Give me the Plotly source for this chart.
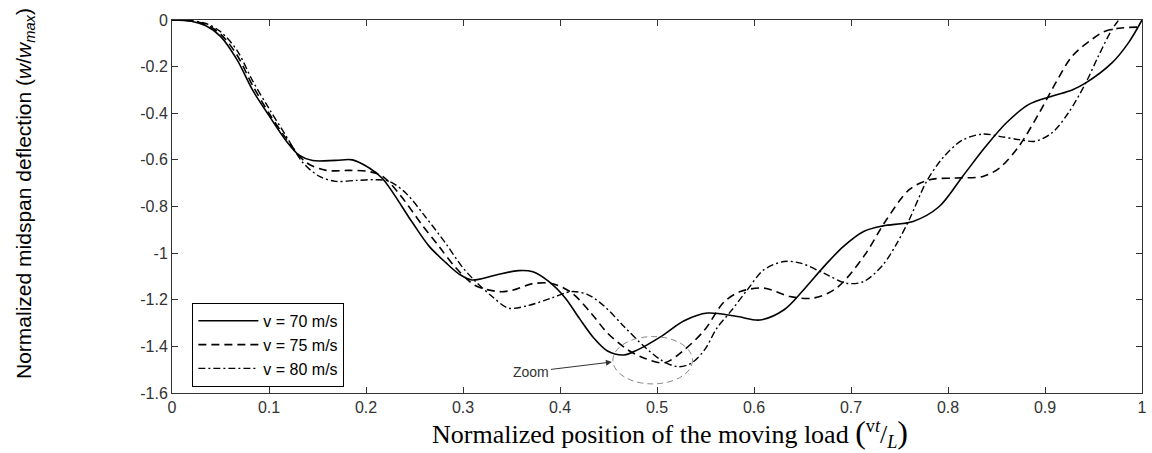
import plotly.graph_objects as go

# ---- data ----
x70 = [0, 0.02, 0.035, 0.05, 0.067, 0.083, 0.10, 0.118, 0.131, 0.145, 0.169, 0.186, 0.203, 0.217,
       0.248, 0.265, 0.282, 0.296, 0.309, 0.333, 0.357, 0.372, 0.388, 0.405, 0.42, 0.435, 0.449, 0.466,
       0.48, 0.504, 0.528, 0.552, 0.583, 0.606, 0.631, 0.651, 0.672, 0.692, 0.713, 0.733, 0.764,
       0.791, 0.815, 0.839, 0.86, 0.883, 0.907, 0.928, 0.942, 0.969, 0.986, 1.0]
y70 = [0, -0.005, -0.025, -0.07, -0.17, -0.30, -0.41, -0.52, -0.58, -0.603, -0.602, -0.600, -0.634, -0.68,
       -0.87, -0.97, -1.04, -1.09, -1.115, -1.095, -1.075, -1.08, -1.12, -1.19, -1.28, -1.365, -1.42, -1.437,
       -1.415, -1.358, -1.29, -1.257, -1.272, -1.287, -1.243, -1.158, -1.058, -0.972, -0.907, -0.883, -0.864,
       -0.80, -0.671, -0.542, -0.442, -0.363, -0.327, -0.30, -0.27, -0.184, -0.098, 0.0]

x75 = [0, 0.02, 0.035, 0.05, 0.067, 0.083, 0.10, 0.118, 0.138, 0.159, 0.183, 0.203, 0.217, 0.235,
       0.258, 0.275, 0.292, 0.313, 0.337, 0.35, 0.371, 0.391, 0.412, 0.432, 0.449, 0.47, 0.487,
       0.508, 0.528, 0.549, 0.569, 0.586, 0.61, 0.637, 0.661, 0.685, 0.713, 0.736, 0.76, 0.781,
       0.808, 0.836, 0.853, 0.873, 0.894, 0.911, 0.928, 0.948, 0.962, 0.979, 1.0]
y75 = [0, -0.004, -0.02, -0.06, -0.15, -0.28, -0.40, -0.51, -0.61, -0.645, -0.645, -0.65, -0.67, -0.75,
       -0.88, -0.97, -1.06, -1.14, -1.165, -1.16, -1.132, -1.13, -1.17, -1.257, -1.343, -1.415, -1.451,
       -1.47, -1.415, -1.33, -1.21, -1.165, -1.15, -1.186, -1.193, -1.15, -1.015, -0.86, -0.728, -0.685,
       -0.678, -0.671, -0.635, -0.542, -0.399, -0.27, -0.155, -0.084, -0.048, -0.034, -0.03]

x80 = [0, 0.02, 0.035, 0.05, 0.067, 0.083, 0.10, 0.118, 0.135, 0.152, 0.169, 0.19, 0.21, 0.224,
       0.241, 0.261, 0.282, 0.299, 0.313, 0.33, 0.347, 0.367, 0.391, 0.412, 0.429, 0.446, 0.466,
       0.487, 0.504, 0.521, 0.535, 0.549, 0.562, 0.576, 0.593, 0.61, 0.631, 0.648, 0.672, 0.695,
       0.713, 0.733, 0.747, 0.76, 0.778, 0.795, 0.815, 0.836, 0.853, 0.873, 0.89, 0.907, 0.924,
       0.942, 0.955, 0.969, 0.976, 0.985]
y80 = [0, -0.003, -0.015, -0.05, -0.13, -0.26, -0.38, -0.50, -0.612, -0.671, -0.692, -0.688, -0.685, -0.692,
       -0.742, -0.843, -0.957, -1.058, -1.122, -1.186, -1.236, -1.225, -1.193, -1.165, -1.179, -1.229, -1.315,
       -1.401, -1.458, -1.487, -1.473, -1.415, -1.32, -1.25, -1.158, -1.072, -1.036, -1.043, -1.086, -1.129,
       -1.122, -1.05, -0.96, -0.857, -0.692, -0.59, -0.515, -0.489, -0.499, -0.513, -0.52, -0.485, -0.399,
       -0.27, -0.155, -0.041, 0.0, 0.05]

series_names = ["v = 70 m/s", "v = 75 m/s", "v = 80 m/s"]

xtick_vals = [0, 0.1, 0.2, 0.3, 0.4, 0.5, 0.6, 0.7, 0.8, 0.9, 1]
xtick_text = ["0", "0.1", "0.2", "0.3", "0.4", "0.5", "0.6", "0.7", "0.8", "0.9", "1"]
ytick_vals = [0, -0.2, -0.4, -0.6, -0.8, -1, -1.2, -1.4, -1.6]
ytick_text = ["0", "-0.2", "-0.4", "-0.6", "-0.8", "-1", "-1.2", "-1.4", "-1.6"]

# zoom marker (ellipse bounds and arrow) in data units
zoom_x0, zoom_x1, zoom_y0, zoom_y1 = 0.4545, 0.5366, -1.561, -1.358
zoom_text_x, zoom_text_y = 0.3705, -1.509
zoom_head_x, zoom_head_y = 0.4535, -1.467

fig = go.Figure()
styles = [dict(dash="solid", width=1.6),
          dict(dash="8px,5px", width=1.6),
          dict(dash="7px,3px,2px,3px", width=1.4)]
for xs, ys, nm, st in zip([x70, x75, x80], [y70, y75, y80], series_names, styles):
    fig.add_trace(go.Scatter(x=xs, y=ys, mode="lines", name=nm,
                             line=dict(color="black", shape="spline", smoothing=0.9, **st)))

fig.add_shape(type="circle", xref="x", yref="y", x0=zoom_x0, x1=zoom_x1, y0=zoom_y0, y1=zoom_y1,
              line=dict(color="#888888", width=1, dash="6px,4px"))

fig.add_annotation(x=zoom_head_x, y=zoom_head_y, ax=zoom_text_x, ay=zoom_text_y,
                   axref="x", ayref="y", xref="x", yref="y", text="Zoom",
                   showarrow=True, arrowhead=2, arrowsize=1.2, arrowwidth=1, arrowcolor="#333333",
                   font=dict(family="Arial, Liberation Sans", size=14, color="#333333"))

# axis titles
fig.add_annotation(xref="paper", yref="paper", x=-0.151, y=0.535, textangle=-90,
                   text="Normalized midspan deflection (<i>w</i>/<i>w</i><sub><i>max</i></sub>)",
                   showarrow=False, xanchor="center", yanchor="middle",
                   font=dict(family="Arial, Liberation Sans", size=21, color="black"))
fig.add_annotation(xref="paper", yref="paper", x=0.513, y=-0.108,
                   text="Normalized position of the moving load <span style='font-size:32px'>(</span><sup>v<i>t</i></sup>/<sub><i>L</i></sub><span style='font-size:32px'>)</span>",
                   showarrow=False, xanchor="center", yanchor="middle",
                   font=dict(family="Times New Roman, Liberation Serif", size=26, color="black"))

axis_common = dict(showline=True, linecolor="#333333", linewidth=1, mirror="ticks",
                   ticks="inside", ticklen=6, tickcolor="#333333", showgrid=False, zeroline=False,
                   tickfont=dict(family="Arial, Liberation Sans", size=16, color="#333333"))
fig.update_xaxes(range=[0, 1], tickvals=xtick_vals, ticktext=xtick_text, **axis_common)
fig.update_yaxes(range=[-1.6, 0], tickvals=ytick_vals, ticktext=ytick_text, **axis_common)

fig.update_layout(width=1152, height=453, margin=dict(l=172, r=5, t=20, b=60),
                  plot_bgcolor="white", paper_bgcolor="white",
                  legend=dict(x=0.021, y=0.2416, xanchor="left", yanchor="top",
                              bordercolor="black", borderwidth=1, bgcolor="white",
                              font=dict(family="Arial, Liberation Sans", size=16, color="black"),
                              tracegroupgap=0, itemwidth=60))

fig.write_html("out.html")
